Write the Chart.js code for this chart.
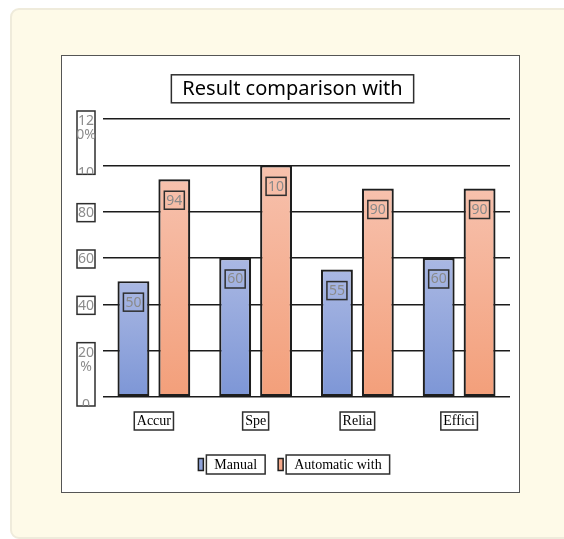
<!DOCTYPE html>
<html>
<head>
<meta charset="utf-8">
<script src="https://cdn.jsdelivr.net/npm/chart.js@4.4.1/dist/chart.umd.min.js"></script>
<style>
  html, body { margin: 0; padding: 0; background: #ffffff; width: 564px; height: 539px; overflow: hidden; }
  #panel { position: absolute; left: 10px; top: 8px; width: 600px; height: 527px; background: #FEFAE8; border: 2px solid #EFEBDB; border-radius: 9px; }
  #frame { position: absolute; left: 61px; top: 55px; width: 457px; height: 436px; background: #ffffff; border: 1.5px solid #555555; }
  #wrap { position: absolute; left: 0; top: 0; width: 564px; height: 539px; }
</style>
</head>
<body>
<div id="panel"></div>
<div id="frame"></div>
<div id="wrap"><canvas id="chart"></canvas></div>
<script>
// Category names and series values
const categories = ['Accur', 'Spe', 'Relia', 'Effici'];
const seriesNames = ['Manual', 'Automatic with'];
const manualValues = [50, 60, 55, 60];
const automaticValues = [94, 100, 90, 90];

// Y axis ticks and their (wrapped) labels, bottom to top
const yTickValues = [0, 20, 40, 60, 80, 100, 120];
const yTickLabels = [['0'], ['20', '%'], ['40'], ['60'], ['80'], ['10'], ['12', '0%']];

const chartTitle = 'Result comparison with';

const SANS = '"Noto Sans", "Open Sans", sans-serif';
const SERIF = '"Liberation Serif", "DejaVu Serif", serif';

// Vertical gradient spanning each bar from its top to the baseline
function barGradient(topColor, bottomColor) {
  return (ctx) => {
    const chart = ctx.chart;
    const area = chart.chartArea;
    if (!area) return bottomColor;
    const ys = chart.scales.y;
    const top = (typeof ctx.raw === 'number') ? ys.getPixelForValue(ctx.raw) : area.top;
    const bottom = ys.getPixelForValue(0);
    const g = chart.ctx.createLinearGradient(0, top, 0, bottom);
    g.addColorStop(0, topColor);
    g.addColorStop(1, bottomColor);
    return g;
  };
}

function strokeBox(ctx, x, y, w, h) {
  ctx.save();
  ctx.strokeStyle = '#2e2e2e';
  ctx.lineWidth = 1.5;
  ctx.strokeRect(x, y, w, h);
  ctx.restore();
}

// Boxed title, boxed tick labels, value labels and legend
const boxedText = {
  id: 'boxedText',
  afterDatasetsDraw(chart) {
    const ctx = chart.ctx;
    ctx.save();
    ctx.font = '14px ' + SANS;
    ctx.textAlign = 'center';
    ctx.textBaseline = 'middle';
    chart.data.datasets.forEach((ds, di) => {
      const meta = chart.getDatasetMeta(di);
      meta.data.forEach((bar, i) => {
        const txt = String(ds.data[i]).slice(0, 2);
        const tw = ctx.measureText(txt).width;
        const cy = bar.y + 21;
        const w = tw + 4, h = 18;
        strokeBox(ctx, bar.x - w / 2, cy - h / 2, w, h);
        ctx.fillStyle = '#8a8a8a';
        ctx.fillText(txt, bar.x, cy + 0.5);
      });
    });
    ctx.restore();
  },
  afterDraw(chart) {
    const ctx = chart.ctx;
    const area = chart.chartArea;

    // Title box
    const tb = chart.titleBlock;
    const topts = chart.options.plugins.title;
    ctx.save();
    ctx.font = topts.font.size + 'px ' + SANS;
    const ttw = ctx.measureText(chartTitle).width;
    const tcx = (tb.left + tb.right) / 2;
    const tcy = tb.top + topts.padding.top + topts.font.size * 1.2 / 2;
    strokeBox(ctx, tcx - ttw / 2 - 11, tcy - 14, ttw + 22, 28);
    ctx.restore();

    // Y tick labels in boxes
    const ys = chart.scales.y;
    ctx.save();
    ctx.font = '14px ' + SANS;
    ctx.textAlign = 'center';
    ctx.textBaseline = 'middle';
    ctx.fillStyle = '#8c8c8c';
    const bx = area.left - 26, bw = 18, cx = bx + bw / 2;
    let coverBox = null;
    for (let i = yTickValues.length - 1; i >= 0; i--) {
      const y = ys.getPixelForValue(yTickValues[i]);
      const lines = yTickLabels[i];
      if (coverBox) {
        ctx.save();
        ctx.beginPath();
        ctx.rect(coverBox.x, coverBox.y, coverBox.w, coverBox.h);
        ctx.clip();
        ctx.fillText(lines[0], cx, y + 8);
        ctx.restore();
        coverBox = null;
        continue;
      }
      if (lines.length > 1) {
        const yNext = ys.getPixelForValue(yTickValues[i - 1]);
        const box = { x: bx, y: y - 8, w: bw, h: (yNext + 9) - (y - 8) };
        strokeBox(ctx, box.x, box.y, box.w, box.h);
        lines.forEach((ln, k) => ctx.fillText(ln, cx, y + 2 + k * 14.5));
        coverBox = box;
      } else {
        strokeBox(ctx, bx, y - 8, bw, 18);
        ctx.fillText(lines[0], cx, y + 1.5);
      }
    }
    ctx.restore();

    // Boxes around category labels
    const xs = chart.scales.x;
    const xt = chart.options.scales.x.ticks;
    ctx.save();
    ctx.font = xt.font.size + 'px ' + SERIF;
    const lcy = xs.top + xt.padding + xt.font.size * 1.2 / 2;
    xs.ticks.forEach((t, i) => {
      const px = xs.getPixelForTick(i);
      const w = ctx.measureText(categories[i]).width + 5;
      strokeBox(ctx, px - w / 2, lcy - 9, w, 18);
    });
    ctx.restore();

    // Legend: small swatch followed by a boxed series name
    ctx.save();
    ctx.font = '14px ' + SERIF;
    ctx.textBaseline = 'middle';
    ctx.textAlign = 'left';
    const swatch = ['#8FA3DA', '#F4A88A'];
    const items = chart.data.datasets.map((ds, i) => ({
      label: ds.label,
      color: swatch[i],
      w: 6 + 2 + ctx.measureText(ds.label).width + 16
    }));
    const gap = 13;
    const total = items.reduce((s, it) => s + it.w, 0) + gap * (items.length - 1);
    let lx = tcx + 1.5 - total / 2;
    const ly = area.bottom + 67.5;
    items.forEach((it) => {
      ctx.fillStyle = it.color;
      ctx.fillRect(lx, ly - 6, 5, 12);
      ctx.strokeStyle = '#1e1e1e';
      ctx.lineWidth = 1.5;
      ctx.strokeRect(lx, ly - 6, 5, 12);
      const boxL = lx + 8;
      const boxW = it.w - 8;
      strokeBox(ctx, boxL, ly - 9.5, boxW, 19);
      ctx.fillStyle = '#000000';
      ctx.fillText(it.label, boxL + 8, ly + 0.5);
      lx += it.w + gap;
    });
    ctx.restore();
  }
};

new Chart(document.getElementById('chart'), {
  type: 'bar',
  data: {
    labels: categories,
    datasets: [
      {
        label: seriesNames[0],
        data: manualValues,
        backgroundColor: barGradient('#AAB8E3', '#7D96D6'),
        borderColor: '#1e1e1e',
        borderWidth: 2.2,
        borderSkipped: false
      },
      {
        label: seriesNames[1],
        data: automaticValues,
        backgroundColor: barGradient('#F7C1AD', '#F39F7A'),
        borderColor: '#1e1e1e',
        borderWidth: 2.2,
        borderSkipped: false
      }
    ]
  },
  options: {
    responsive: true,
    maintainAspectRatio: false,
    animation: false,
    devicePixelRatio: 1,
    layout: { padding: { top: 75, left: 75, right: 54, bottom: 46 } },
    datasets: { bar: { barPercentage: 0.78, categoryPercentage: 0.804 } },
    plugins: {
      legend: { display: false },
      tooltip: { enabled: false },
      title: {
        display: true,
        text: chartTitle,
        color: '#000000',
        font: { family: SANS, size: 20, weight: 'normal' },
        padding: { top: 1.8, bottom: 18.2 }
      }
    },
    scales: {
      x: {
        grid: { display: false, drawTicks: false },
        border: { display: false },
        ticks: { color: '#000000', font: { family: SERIF, size: 14 }, padding: 15.6 },
        afterFit(s) { s.height = 96; }
      },
      y: {
        min: 0,
        max: 120,
        ticks: { display: false, stepSize: 20 },
        grid: { color: '#1b1b1b', lineWidth: 1.5, drawTicks: false },
        border: { display: false },
        afterFit(s) { s.width = 28; }
      }
    }
  },
  plugins: [boxedText]
});
</script>
</body>
</html>
